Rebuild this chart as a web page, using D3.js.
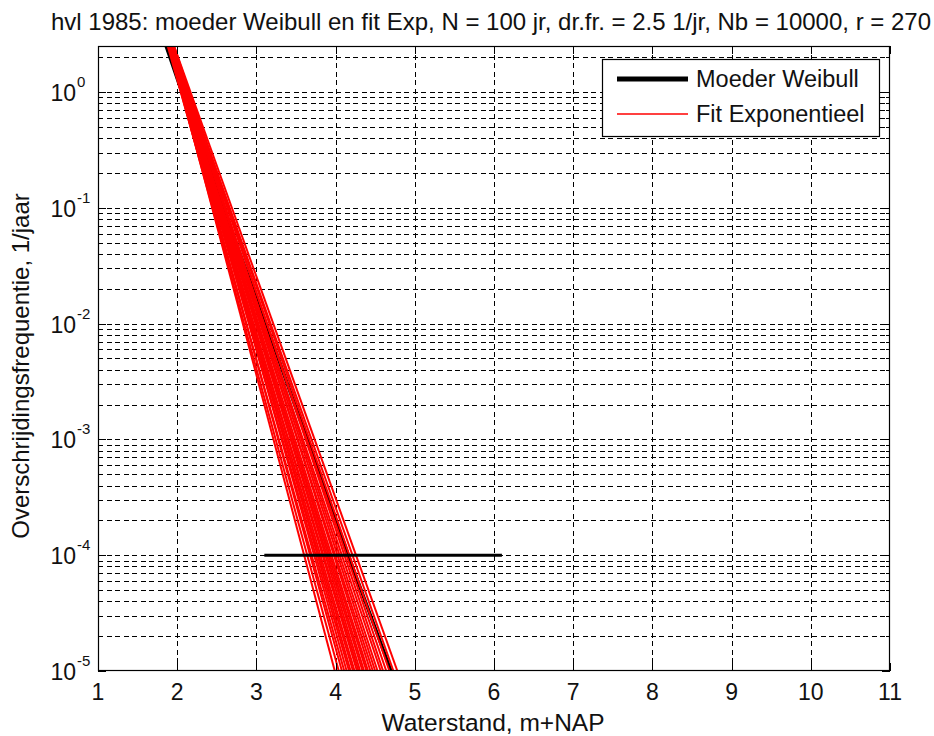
<!DOCTYPE html>
<html>
<head>
<meta charset="utf-8">
<script src="https://cdn.jsdelivr.net/npm/d3@7"></script>
<style>
  html, body { margin: 0; padding: 0; background: #fff; }
  svg { display: block; }
  text { font-family: "Liberation Sans", Arial, sans-serif; fill: #111; }
</style>
</head>
<body>
<svg id="chart" width="934" height="736"></svg>
<script>
// ---------- data ----------
const titleText = "hvl 1985: moeder Weibull en fit Exp, N = 100 jr, dr.fr. = 2.5 1/jr, Nb = 10000, r = 270";
const xLabel = "Waterstand, m+NAP";
const yLabel = "Overschrijdingsfrequentie, 1/jaar";
const legendLabels = ["Moeder Weibull", "Fit Exponentieel"];

const xTicks = [1, 2, 3, 4, 5, 6, 7, 8, 9, 10, 11];
const yMajorExp = [-5, -4, -3, -2, -1, 0];

// Moeder Weibull curve (frequency vs water level)
const weibullF = [2.5, 1, 0.3, 0.1, 0.03, 0.01, 1e-3, 1e-4, 1e-5];
const weibullX = [1.86, 2.06, 2.34, 2.58, 2.86, 3.12, 3.64, 4.16, 4.70];

// Exponential fits: water level at F = 2.5 and at F = 1e-5
const fitTopF = 2.5;
const fitBottomF = 1e-5;
const fitTopX = [1.90,1.89,1.91,1.88,1.92,1.90,1.93,1.89,1.91,1.92,1.90,1.94,1.91,1.93,1.90,1.92,1.95,1.91,1.93,1.94,1.92,1.96,1.93,1.95,1.94,1.96];
const fitBottomX = [3.99,4.04,4.08,4.11,4.14,4.17,4.19,4.22,4.24,4.27,4.29,4.31,4.34,4.36,4.39,4.41,4.44,4.47,4.50,4.53,4.57,4.60,4.64,4.68,4.73,4.78];

// horizontal reference line
const hLineX = [3.1, 6.1];
const hLineF = 1e-4;

// ---------- layout ----------
const svg = d3.select("#chart");
const L = 98, R = 890, T = 46, B = 671;
const FS = 23;

const x = d3.scaleLinear().domain([1, 11]).range([L, R]);
const y = d3.scaleLog().domain([1e-5, 2.5]).range([B, T]);

// clip
svg.append("defs").append("clipPath").attr("id", "clip")
  .append("rect").attr("x", L).attr("y", T).attr("width", R - L).attr("height", B - T);

// background
svg.append("rect").attr("x", L).attr("y", T).attr("width", R - L).attr("height", B - T).attr("fill", "#fff");

// grid
const gridG = svg.append("g").attr("stroke", "#000").attr("stroke-width", 1)
  .attr("stroke-dasharray", "5,3.5").attr("shape-rendering", "crispEdges");
const yGridVals = [];
yMajorExp.forEach(e => {
  for (let m = 1; m <= 9; m++) {
    const v = m * Math.pow(10, e);
    if (v <= 2.5 && v >= 1e-5) yGridVals.push({v, major: m === 1});
  }
});
gridG.selectAll("line.gy").data(yGridVals.filter(d => d.v > 1e-5)).enter().append("line")
  .attr("x1", L).attr("x2", R).attr("y1", d => Math.round(y(d.v)) + 0.5).attr("y2", d => Math.round(y(d.v)) + 0.5);
gridG.selectAll("line.gx").data(xTicks.slice(1, -1)).enter().append("line")
  .attr("y1", T).attr("y2", B).attr("x1", d => Math.round(x(d)) + 0.5).attr("x2", d => Math.round(x(d)) + 0.5);

// data lines
const plotG = svg.append("g").attr("clip-path", "url(#clip)");
const weibullLine = d3.line().x(d => x(d[0])).y(d => y(d[1]));
plotG.append("path")
  .datum(weibullX.map((v, i) => [v, weibullF[i]]))
  .attr("d", weibullLine).attr("fill", "none").attr("stroke", "#000").attr("stroke-width", 3.5);

plotG.selectAll("path.fit").data(fitTopX.map((t, i) => [[t, fitTopF], [fitBottomX[i], fitBottomF]]))
  .enter().append("path")
  .attr("d", d3.line().x(d => x(d[0])).y(d => y(d[1])))
  .attr("fill", "none").attr("stroke", "#ff0000").attr("stroke-width", 2);

plotG.append("line")
  .attr("x1", x(hLineX[0])).attr("x2", x(hLineX[1]))
  .attr("y1", y(hLineF)).attr("y2", y(hLineF))
  .attr("stroke", "#000").attr("stroke-width", 3);

// ticks
const tickG = svg.append("g").attr("stroke", "#000").attr("stroke-width", 1).attr("shape-rendering", "crispEdges");
xTicks.forEach(t => {
  const px = Math.round(x(t)) + 0.5;
  tickG.append("line").attr("x1", px).attr("x2", px).attr("y1", B).attr("y2", B - 8);
  tickG.append("line").attr("x1", px).attr("x2", px).attr("y1", T).attr("y2", T + 8);
});
yGridVals.forEach(d => {
  const py = Math.round(y(d.v)) + 0.5;
  const len = d.major ? 8 : 4;
  tickG.append("line").attr("x1", L).attr("x2", L + len).attr("y1", py).attr("y2", py);
  tickG.append("line").attr("x1", R).attr("x2", R - len).attr("y1", py).attr("y2", py);
});

// axes box
svg.append("rect").attr("x", L + 0.5).attr("y", T + 0.5).attr("width", R - L - 1).attr("height", B - T - 1)
  .attr("fill", "none").attr("stroke", "#000").attr("stroke-width", 1.2);

// x tick labels
svg.selectAll("text.xt").data(xTicks).enter().append("text")
  .attr("x", d => x(d)).attr("y", 700).attr("text-anchor", "middle")
  .attr("font-size", FS).text(d => d);

// y tick labels
yMajorExp.forEach(e => {
  const py = y(Math.pow(10, e));
  svg.append("text").attr("x", 76).attr("y", py + 9).attr("text-anchor", "end")
    .attr("font-size", FS).text("10");
  svg.append("text").attr("x", 77).attr("y", py - 5).attr("text-anchor", "start")
    .attr("font-size", 15).text(e === 0 ? "0" : String(e));
});

// title and labels
svg.append("text").attr("x", 491).attr("y", 30).attr("text-anchor", "middle")
  .attr("font-size", 24).text(titleText);
svg.append("text").attr("x", 493).attr("y", 731).attr("text-anchor", "middle")
  .attr("font-size", 24.5).text(xLabel);
svg.append("text").attr("transform", `translate(29,366) rotate(-90)`)
  .attr("text-anchor", "middle").attr("font-size", 24).text(yLabel);

// legend
const lg = svg.append("g");
lg.append("rect").attr("x", 602.5).attr("y", 59.5).attr("width", 277).attr("height", 77)
  .attr("fill", "#fff").attr("stroke", "#000").attr("stroke-width", 1.2);
lg.append("line").attr("x1", 617).attr("x2", 688).attr("y1", 79).attr("y2", 79)
  .attr("stroke", "#000").attr("stroke-width", 5);
lg.append("line").attr("x1", 617).attr("x2", 688).attr("y1", 114).attr("y2", 114)
  .attr("stroke", "#ff0000").attr("stroke-width", 1.5);
lg.append("text").attr("x", 696).attr("y", 87).attr("font-size", 23.5).text(legendLabels[0]);
lg.append("text").attr("x", 696).attr("y", 122).attr("font-size", 23.5).text(legendLabels[1]);
</script>
</body>
</html>
